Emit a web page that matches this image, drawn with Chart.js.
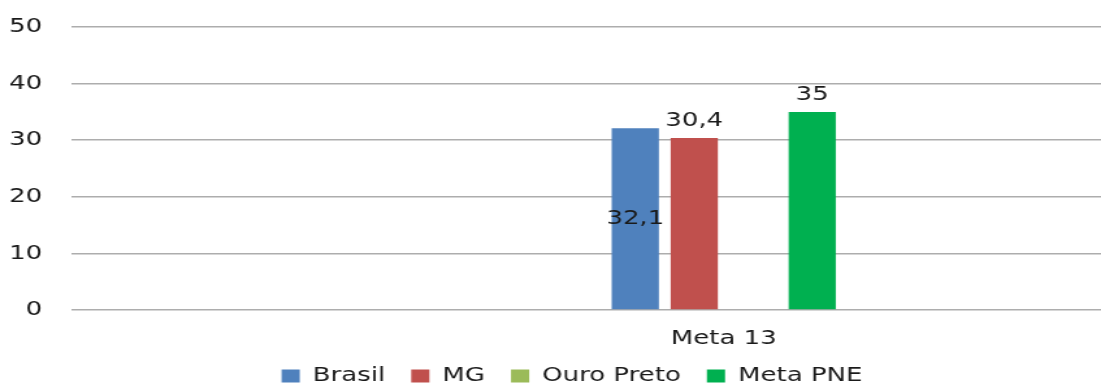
<!DOCTYPE html>
<html>
<head>
<meta charset="utf-8">
<script src="https://cdn.jsdelivr.net/npm/chart.js@4.4.1/dist/chart.umd.min.js"></script>
<style>
  html, body { margin: 0; padding: 0; background: #fff; overflow: hidden; width: 1101px; height: 385px; }
  #wrap { width: 1060px; height: 385px; transform: scaleX(1.3); transform-origin: 0 0; }
</style>
</head>
<body>
<div id="wrap"><canvas id="c" width="1060" height="385"></canvas></div>
<script>
const categories = ['Meta 13'];
const seriesNames = ['Brasil', 'MG', 'Ouro Preto', 'Meta PNE'];
const brasil = [32.1];
const mg = [30.4];
const ouroPreto = [null];
const metaPNE = [35];
const yTicks = [0, 10, 20, 30, 40, 50];

const FONT = { family: '"DejaVu Sans", sans-serif', size: 20 };
const TEXT = '#1a1a1a';

const valueLabels = {
  id: 'valueLabels',
  afterDatasetsDraw(chart) {
    const ctx = chart.ctx;
    ctx.save();
    ctx.font = '20px "DejaVu Sans", sans-serif';
    ctx.fillStyle = TEXT;
    ctx.textAlign = 'center';
    chart.data.datasets.forEach((ds, i) => {
      const meta = chart.getDatasetMeta(i);
      if (meta.hidden) return;
      meta.data.forEach((bar, j) => {
        const v = ds.data[j];
        if (v == null) return;
        const text = String(v).replace('.', ',');
        if (ds.labelPos === 'center') {
          ctx.textBaseline = 'middle';
          ctx.fillText(text, bar.x, (bar.y + bar.base) / 2);
        } else {
          ctx.textBaseline = 'bottom';
          ctx.fillText(text, bar.x, bar.y - 7);
        }
      });
    });
    ctx.restore();
  }
};

const legendShift = {
  id: 'legendShift',
  afterLayout(chart) {
    const L = chart.legend;
    if (!L) return;
    L.left = 0;
    L.right = 880;
    L.top -= 22;
    L.bottom -= 22;
  }
};

const colors = ['#4F81BD', '#C0504D', '#9BBB59', '#00B050'];
const values = [brasil, mg, ouroPreto, metaPNE];
const labelPos = ['center', 'end', 'end', 'end'];

new Chart(document.getElementById('c'), {
  type: 'bar',
  data: {
    labels: categories,
    datasets: seriesNames.map((name, i) => ({
      label: name,
      data: values[i],
      backgroundColor: colors[i],
      borderWidth: 0,
      labelPos: labelPos[i],
      categoryPercentage: 0.181,
      barPercentage: 0.8
    }))
  },
  options: {
    responsive: false,
    animation: false,
    devicePixelRatio: 1,
    layout: { padding: { top: 27, left: -8, right: 2, bottom: -33 } },
    plugins: {
      tooltip: { enabled: false },
      legend: {
        position: 'bottom',
        labels: {
          font: FONT,
          color: TEXT,
          boxWidth: 14,
          boxHeight: 13,
          padding: 20
        }
      }
    },
    scales: {
      x: {
        grid: { display: false, drawTicks: false },
        border: { display: false },
        ticks: { font: FONT, color: TEXT, padding: 17 }
      },
      y: {
        min: 0,
        max: 50,
        afterBuildTicks(scale) { scale.ticks = yTicks.map(v => ({ value: v })); },
        grid: { color: '#adadad', lineWidth: 1.5, drawTicks: true, tickLength: 8, tickColor: 'rgba(0,0,0,0)' },
        border: { display: false },
        ticks: { font: FONT, color: TEXT, padding: 15 }
      }
    }
  },
  plugins: [valueLabels, legendShift]
});
</script>
</body>
</html>
